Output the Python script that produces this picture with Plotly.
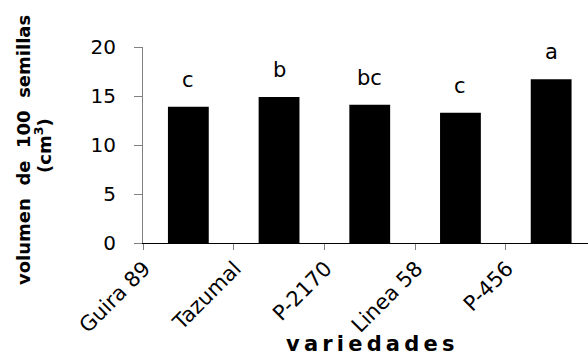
import plotly.graph_objects as go

# Seed volume per variety with significance groups
variedades = ["Guira 89", "Tazumal", "P-2170", "Linea 58", "P-456"]
volumen = [13.9, 14.9, 14.1, 13.3, 16.7]
grupos = ["c", "b", "bc", "c", "a"]
y_ticks = [0, 5, 10, 15, 20]

FONT = "DejaVu Sans, Liberation Sans, Arial, sans-serif"

W, H = 588, 356
L, R, T, B = 143, 0, 47, 113
plot_w = W - L - R
plot_h = H - T - B


def px_x(px):
    return (px - L) / plot_w


def px_y(py):
    return (H - B - py) / plot_h


fig = go.Figure(
    go.Bar(
        x=variedades,
        y=volumen,
        width=0.45,
        marker=dict(color="black", line=dict(width=0)),
        hoverinfo="x+y",
    )
)

for v, val, g in zip(variedades, volumen, grupos):
    fig.add_annotation(
        x=v, y=val, text=g, showarrow=False,
        yanchor="bottom", yshift=13,
        font=dict(family=FONT, size=21, color="black"),
    )

sp = "\u00a0"
fig.add_annotation(
    xref="paper", yref="paper", x=px_x(23), y=px_y(150),
    text=f"<b>volumen{sp*2}de{sp*2}100{sp*2}semillas</b>",
    textangle=-90, showarrow=False, xanchor="center", yanchor="middle",
    font=dict(family=FONT, size=18, color="black"),
)
fig.add_annotation(
    xref="paper", yref="paper", x=px_x(43), y=px_y(146),
    text="<b>(cm<sup>3</sup>)</b>",
    textangle=-90, showarrow=False, xanchor="center", yanchor="middle",
    font=dict(family=FONT, size=18, color="black"),
)
fig.add_annotation(
    xref="paper", yref="paper", x=px_x(370), y=px_y(344),
    text="<b>" + "\u2009".join("variedades") + "</b>",
    showarrow=False, xanchor="center", yanchor="middle",
    font=dict(family=FONT, size=21, color="black"),
)

fig.update_layout(
    width=W, height=H,
    margin=dict(l=L, r=R, t=T, b=B, pad=0),
    paper_bgcolor="white", plot_bgcolor="white",
    showlegend=False,
    xaxis=dict(
        type="category",
        range=[-0.5, -0.5 + plot_w / 90.7],
        tickson="boundaries",
        ticks="outside", ticklen=6, tickcolor="#808080", tickwidth=1,
        showline=True, linecolor="black", linewidth=1,
        showgrid=False, zeroline=False,
        tickangle=-45,
        ticklabelshift=-44,
        ticklabelstandoff=4,
        tickfont=dict(family=FONT, size=21, color="black"),
    ),
    yaxis=dict(
        range=[0, 20],
        tickvals=y_ticks,
        ticks="outside", ticklen=8, tickcolor="#808080", tickwidth=1,
        showline=True, linecolor="#808080", linewidth=1,
        showgrid=False, zeroline=False,
        ticklabelstandoff=14,
        tickfont=dict(family=FONT, size=20, color="black"),
    ),
)

fig.write_html("out.html")
